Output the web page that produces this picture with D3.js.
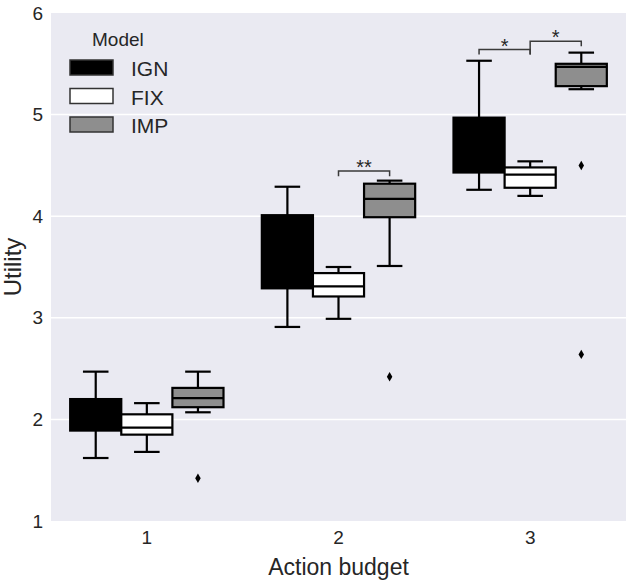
<!DOCTYPE html>
<html lang="en">
<head>
    <meta charset="UTF-8">
    <script src="https://d3js.org/d3.v7.min.js"></script>
    <title>Utility by action budget</title>
    <style>
        body { margin: 0; background: #fff; }
        text { font-family: "Liberation Sans", Arial, sans-serif; fill: #262626; }
    </style>
</head>
<body>
    <div id="chart"></div>
    <script>
        // ---------- data ----------
        const budgets = ["1", "2", "3"];
        const models = ["IGN", "FIX", "IMP"];
        const modelColors = ["#000000", "#ffffff", "#8e8e8e"];
        const yTicks = [1, 2, 3, 4, 5, 6];

        // one entry per action budget: whisker low, q1, median, q3, whisker high, outliers
        const ignStats = [
            { lo: 1.62, q1: 1.89, med: 2.00, q3: 2.20, hi: 2.47, out: [] },
            { lo: 2.91, q1: 3.29, med: 3.60, q3: 4.01, hi: 4.29, out: [] },
            { lo: 4.26, q1: 4.43, med: 4.70, q3: 4.97, hi: 5.53, out: [] }
        ];
        const fixStats = [
            { lo: 1.68, q1: 1.85, med: 1.92, q3: 2.05, hi: 2.16, out: [] },
            { lo: 2.99, q1: 3.21, med: 3.31, q3: 3.44, hi: 3.50, out: [] },
            { lo: 4.20, q1: 4.28, med: 4.41, q3: 4.48, hi: 4.54, out: [] }
        ];
        const impStats = [
            { lo: 2.07, q1: 2.12, med: 2.21, q3: 2.31, hi: 2.47, out: [1.42] },
            { lo: 3.51, q1: 3.99, med: 4.17, q3: 4.32, hi: 4.35, out: [2.42] },
            { lo: 5.25, q1: 5.28, med: 5.47, q3: 5.50, hi: 5.61, out: [4.50, 2.64] }
        ];

        // significance brackets
        const brackets = [
            { budget: "2", from: "FIX", to: "IMP", y: 4.445, endFrom: 4.393, endTo: 4.393, label: "**" },
            { budget: "3", from: "IGN", to: "FIX", y: 5.640, endFrom: 5.591, endTo: 5.591, label: "*" },
            { budget: "3", from: "FIX", to: "IMP", y: 5.721, endFrom: 5.591, endTo: 5.672, label: "*" }
        ];

        // ---------- layout ----------
        const width = 630, height = 581;
        const margin = { top: 13, right: 4, bottom: 60, left: 51 };

        const svg = d3.select("#chart").append("svg")
            .attr("width", width)
            .attr("height", height);

        const x = d3.scaleBand()
            .domain(budgets)
            .range([margin.left, width - margin.right]);

        const hue = d3.scaleBand()
            .domain(models)
            .range([x.bandwidth() * 0.1, x.bandwidth() * 0.9]);

        const y = d3.scaleLinear()
            .domain([1, 6])
            .range([height - margin.bottom, margin.top]);

        const color = d3.scaleOrdinal().domain(models).range(modelColors);

        // background + grid
        svg.append("rect")
            .attr("x", margin.left)
            .attr("y", margin.top)
            .attr("width", x.range()[1] - x.range()[0])
            .attr("height", y.range()[0] - y.range()[1])
            .attr("fill", "#eaeaf2");

        svg.append("g")
            .selectAll("line")
            .data(yTicks.slice(1, -1))
            .enter()
            .append("line")
            .attr("x1", x.range()[0])
            .attr("x2", x.range()[1])
            .attr("y1", d => y(d))
            .attr("y2", d => y(d))
            .attr("stroke", "#fff")
            .attr("stroke-width", 1.5);

        // axes (no domain line, no tick marks, like seaborn darkgrid)
        const yAxis = svg.append("g")
            .attr("transform", `translate(${margin.left},0)`)
            .call(d3.axisLeft(y).tickValues(yTicks).tickSize(0).tickPadding(8).tickFormat(d3.format("d")));
        yAxis.select(".domain").remove();
        yAxis.selectAll("text").style("font-size", "19px").attr("fill", "#262626");

        const xAxis = svg.append("g")
            .attr("transform", `translate(0,${y.range()[0]})`)
            .call(d3.axisBottom(x).tickSize(0).tickPadding(10));
        xAxis.select(".domain").remove();
        xAxis.selectAll("text").style("font-size", "19px").attr("fill", "#262626");

        svg.append("text")
            .attr("x", (x.range()[0] + x.range()[1]) / 2)
            .attr("y", 575)
            .attr("text-anchor", "middle")
            .style("font-size", "23px")
            .text("Action budget");

        svg.append("text")
            .attr("transform", `translate(21,${(y.range()[0] + y.range()[1]) / 2}) rotate(-90)`)
            .attr("text-anchor", "middle")
            .style("font-size", "24px")
            .text("Utility");

        // ---------- boxes ----------
        const statsByModel = { IGN: ignStats, FIX: fixStats, IMP: impStats };
        const boxes = [];
        models.forEach(m => {
            statsByModel[m].forEach((s, i) => boxes.push({ model: m, budget: budgets[i], ...s }));
        });

        const edge = "#000";
        const bw = hue.bandwidth();
        const cx = d => x(d.budget) + hue(d.model) + bw / 2;

        const g = svg.append("g").selectAll("g")
            .data(boxes)
            .enter()
            .append("g");

        // whiskers
        g.append("line")
            .attr("x1", cx).attr("x2", cx)
            .attr("y1", d => y(d.q3)).attr("y2", d => y(d.hi))
            .attr("stroke", edge).attr("stroke-width", 2.2);
        g.append("line")
            .attr("x1", cx).attr("x2", cx)
            .attr("y1", d => y(d.q1)).attr("y2", d => y(d.lo))
            .attr("stroke", edge).attr("stroke-width", 2.2);
        // caps
        ["hi", "lo"].forEach(k => {
            g.append("line")
                .attr("x1", d => cx(d) - bw / 4).attr("x2", d => cx(d) + bw / 4)
                .attr("y1", d => y(d[k])).attr("y2", d => y(d[k]))
                .attr("stroke", edge).attr("stroke-width", 2.2);
        });
        // box
        g.append("rect")
            .attr("x", d => cx(d) - bw / 2)
            .attr("width", bw)
            .attr("y", d => y(d.q3))
            .attr("height", d => y(d.q1) - y(d.q3))
            .attr("fill", d => color(d.model))
            .attr("stroke", edge)
            .attr("stroke-width", 2.2);
        // median
        g.append("line")
            .attr("x1", d => cx(d) - bw / 2).attr("x2", d => cx(d) + bw / 2)
            .attr("y1", d => y(d.med)).attr("y2", d => y(d.med))
            .attr("stroke", edge).attr("stroke-width", 2.2);
        // outliers
        const diamond = d3.symbol().type(d3.symbolDiamond).size(26);
        g.selectAll("path.flier")
            .data(d => d.out.map(v => ({ v, cx: cx(d) })))
            .enter()
            .append("path")
            .attr("class", "flier")
            .attr("d", diamond)
            .attr("transform", d => `translate(${d.cx},${y(d.v)})`)
            .attr("fill", "#000");

        // ---------- significance brackets ----------
        const bx = (b, m) => x(b) + hue(m) + bw / 2;
        const br = svg.append("g").selectAll("g")
            .data(brackets)
            .enter()
            .append("g");
        br.append("path")
            .attr("d", d => {
                const x1 = bx(d.budget, d.from), x2 = bx(d.budget, d.to);
                return `M${x1},${y(d.endFrom)}V${y(d.y)}H${x2}V${y(d.endTo)}`;
            })
            .attr("fill", "none")
            .attr("stroke", "#3a3a3a")
            .attr("stroke-width", 1.5);
        br.append("text")
            .attr("x", d => (bx(d.budget, d.from) + bx(d.budget, d.to)) / 2)
            .attr("y", d => y(d.y) + 3)
            .attr("text-anchor", "middle")
            .style("font-size", "20px")
            .attr("fill", "#555")
            .text(d => d.label);

        // ---------- legend ----------
        const legend = svg.append("g");
        legend.append("text")
            .attr("x", 92)
            .attr("y", 46)
            .style("font-size", "19px")
            .text("Model");
        const items = legend.selectAll("g.item")
            .data(models)
            .enter()
            .append("g")
            .attr("class", "item")
            .attr("transform", (d, i) => `translate(0,${i * 28.5})`);
        items.append("rect")
            .attr("x", 70)
            .attr("y", 60)
            .attr("width", 43)
            .attr("height", 15)
            .attr("fill", d => color(d))
            .attr("stroke", "#333")
            .attr("stroke-width", 1.5);
        items.append("text")
            .attr("x", 131)
            .attr("y", 76)
            .style("font-size", "21px")
            .text(d => d);
    </script>
</body>
</html>
